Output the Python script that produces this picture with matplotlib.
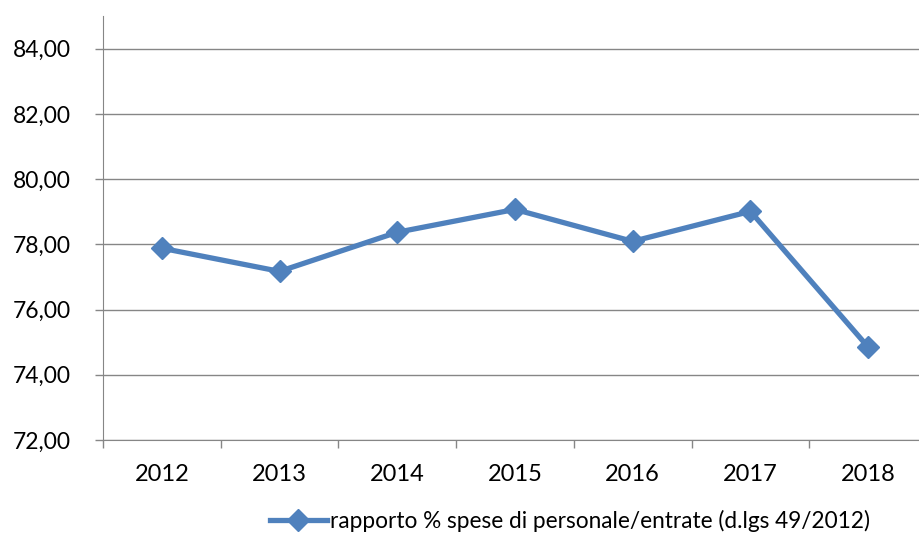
import numpy as np
import matplotlib.pyplot as plt

anni = ['2012', '2013', '2014', '2015', '2016', '2017', '2018']
rapporto = [77.88, 77.17, 78.37, 79.07, 78.09, 79.01, 74.85]
yticks = [72, 74, 76, 78, 80, 82, 84]
etichetta = 'rapporto % spese di personale/entrate (d.lgs 49/2012)'

plt.rcParams['font.family'] = ['Lato', 'DejaVu Sans']
blu = '#4F81BD'
grigio = '#868686'

fig = plt.figure(figsize=(9.19, 5.34), dpi=100)
ax = fig.add_axes([103/919, 94/534, 824/919, 424/534])

x = np.arange(len(anni))
ax.plot(x, rapporto, color=blu, lw=3.8, marker='D', ms=11, label=etichetta)

ax.set_xlim(-0.5, len(anni) - 0.5)
ax.set_ylim(72, 85)
ax.set_yticks(yticks)
ax.set_yticklabels([('%.2f' % v).replace('.', ',') for v in yticks])
ax.set_xticks(x)
ax.set_xticklabels(anni)
ax.set_xticks(np.arange(len(anni) + 1) - 0.5, minor=True)
ax.tick_params(axis='x', which='major', length=0, pad=17, labelsize=17)
ax.tick_params(axis='x', which='minor', length=6, width=1, color=grigio, direction='out')
ax.tick_params(axis='y', length=6, width=1, color=grigio, pad=17, labelsize=16.5)

ax.grid(axis='y', color=grigio, lw=1)
ax.set_axisbelow(True)
for s in ['top', 'right']:
    ax.spines[s].set_visible(False)
ax.spines['left'].set_color(grigio)
ax.spines['bottom'].set_color(grigio)

fig.legend(loc='center left', bbox_to_anchor=(270/919, 1 - 521/534), frameon=False,
           fontsize=16.3, handlelength=2.5, handletextpad=0.15, borderpad=0, borderaxespad=0)

fig.savefig('out.png', dpi=100)
